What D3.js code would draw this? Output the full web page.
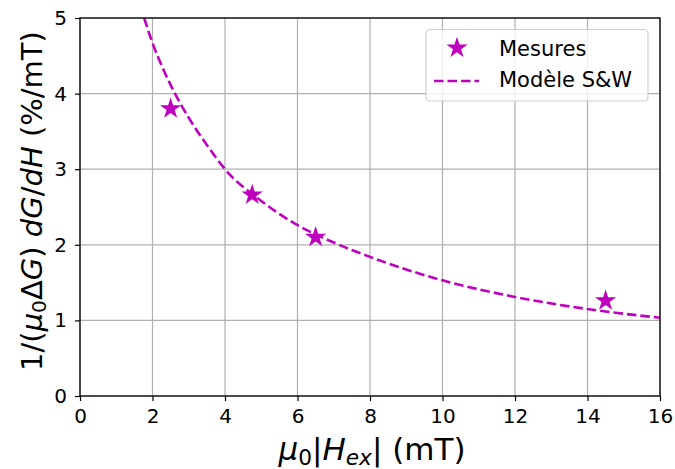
<!DOCTYPE html>
<html><head><meta charset="utf-8">
<script src="https://cdn.jsdelivr.net/npm/d3@7"></script>
<style>body{margin:0;background:#fff}svg text{font-family:"DejaVu Sans",sans-serif;fill:#000}</style>
</head><body>
<svg id="c" width="675" height="469"></svg>
<script>
// ---- data ----
const xTicks = [0, 2, 4, 6, 8, 10, 12, 14, 16];
const yTicks = [0, 1, 2, 3, 4, 5];
const measX = [2.5, 4.75, 6.5, 14.5];
const measY = [3.8, 2.66, 2.1, 1.26];
const modelX = [1.77, 2, 2.3, 2.62, 3, 3.5, 4, 5, 6, 7, 8, 10, 12, 14, 16];
const modelY = [5, 4.67, 4.32, 4.0, 3.68, 3.32, 3.0, 2.58, 2.26, 2.03, 1.84, 1.53, 1.31, 1.15, 1.035];
const legendLabels = ["Mesures", "Modèle S&W"];

const color = "#bf00bf";
const svg = d3.select("#c");
const L = 80, R = 660, T = 18, B = 396;
const x = d3.scaleLinear().domain([0, 16]).range([L, R]);
const y = d3.scaleLinear().domain([0, 5]).range([B, T]);

// grid
const g = svg.append("g");
g.selectAll(".gx").data(xTicks).join("line")
  .attr("x1", d => x(d)).attr("x2", d => x(d)).attr("y1", T).attr("y2", B)
  .attr("stroke", "#b0b0b0").attr("stroke-width", 1.2);
g.selectAll(".gy").data(yTicks).join("line")
  .attr("y1", d => y(d)).attr("y2", d => y(d)).attr("x1", L).attr("x2", R)
  .attr("stroke", "#b0b0b0").attr("stroke-width", 1.2);

// clip
svg.append("clipPath").attr("id", "clip").append("rect")
  .attr("x", L).attr("y", T).attr("width", R - L).attr("height", B - T);

// model curve
const pts = modelX.map((d, i) => [d, modelY[i]]);
svg.append("path").attr("clip-path", "url(#clip)")
  .attr("d", d3.line().x(d => x(d[0])).y(d => y(d[1])).curve(d3.curveMonotoneX)(pts))
  .attr("fill", "none").attr("stroke", color).attr("stroke-width", 2.6)
  .attr("stroke-dasharray", "9.5,4");

// stars
const star = d3.symbol().type(d3.symbolStar).size(140);
svg.selectAll(".st").data(measX.map((d, i) => [d, measY[i]])).join("path")
  .attr("transform", d => `translate(${x(d[0])},${y(d[1])})`)
  .attr("d", star).attr("fill", color);

// axes
const ax = svg.append("g").attr("transform", `translate(0,${B})`)
  .call(d3.axisBottom(x).tickValues(xTicks).tickSize(5).tickPadding(8).tickFormat(d3.format("d")));
const ay = svg.append("g").attr("transform", `translate(${L},0)`)
  .call(d3.axisLeft(y).tickValues(yTicks).tickSize(5).tickPadding(8).tickFormat(d3.format("d")));
[ax, ay].forEach(a => {
  a.select(".domain").remove();
  a.selectAll("line").attr("stroke", "#000").attr("stroke-width", 1.2);
  a.selectAll("text").style("font-size", "20px").style("font-family", "DejaVu Sans");
});
svg.append("rect").attr("x", L).attr("y", T).attr("width", R - L).attr("height", B - T)
  .attr("fill", "none").attr("stroke", "#000").attr("stroke-width", 1.3);

// rich text helper
function rich(sel, segs) {
  let sub = false;
  segs.forEach(s => {
    const t = sel.append("tspan").text(s[0]);
    if (s[1]) t.style("font-style", "oblique");
    const wantSub = !!s[2];
    if (wantSub && !sub) { t.attr("dy", "0.22em").style("font-size", "0.7em"); }
    else if (wantSub && sub) { t.style("font-size", "0.7em"); }
    else if (!wantSub && sub) { t.attr("dy", "-0.154em"); }
    sub = wantSub;
  });
}
// x label
const xl = svg.append("text").attr("x", (L + R) / 2 + 2).attr("y", 460)
  .attr("text-anchor", "middle").style("font-size", "31px");
rich(xl, [["μ", 1], ["0", 0, 1], ["|"], ["H", 1], ["ex", 1, 1], ["|"], [" (mT)"]]);

// y label
const yl = svg.append("text").attr("transform", "translate(42,201) rotate(-90)")
  .attr("text-anchor", "middle").style("font-size", "29px");
rich(yl, [["1/("], ["μ", 1], ["0", 0, 1], ["Δ"], ["G", 1], [")"], [" "], ["dG", 1], ["/"], ["dH", 1], [" (%/mT)"]]);

// legend
const lg = svg.append("g");
lg.append("rect").attr("x", 426).attr("y", 29.5).attr("width", 222).attr("height", 71.5)
  .attr("rx", 4).attr("fill", "#fff").attr("fill-opacity", 0.8)
  .attr("stroke", "#d0d0d0").attr("stroke-width", 1.2);
lg.append("path").attr("transform", "translate(457,48)").attr("d", star).attr("fill", color);
lg.append("line").attr("x1", 434).attr("x2", 479).attr("y1", 81).attr("y2", 81)
  .attr("stroke", color).attr("stroke-width", 2.6).attr("stroke-dasharray", "9.5,4");
lg.selectAll(".lt").data(legendLabels).join("text")
  .attr("x", 499).attr("y", (d, i) => 55.5 + i * 31.5)
  .style("font-size", "21px").text(d => d);
</script>
</body></html>
